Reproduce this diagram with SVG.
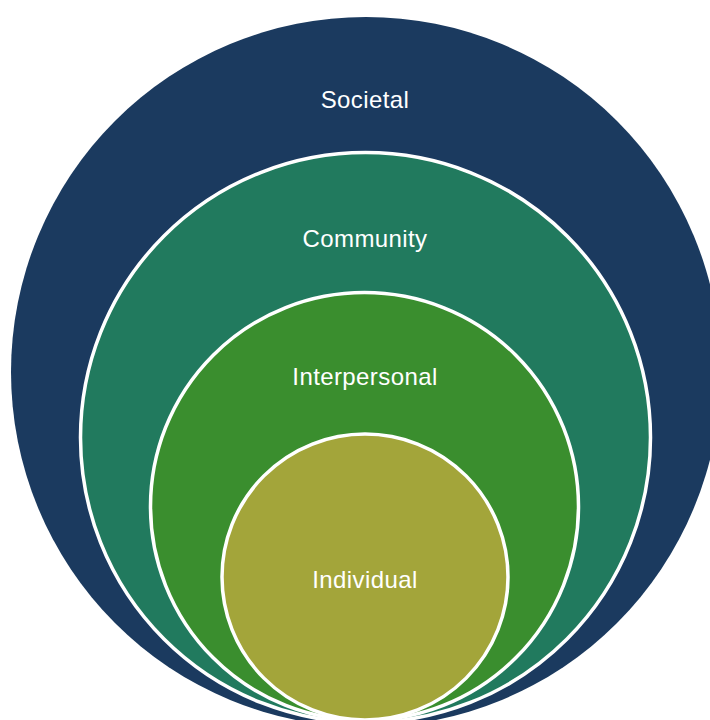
<svg xmlns="http://www.w3.org/2000/svg" width="710" height="720" viewBox="0 0 710 720">
<style>
.ring{stroke:#ffffff;stroke-width:3.5}
.lbl{font-family:"Liberation Sans","DejaVu Sans",sans-serif;font-size:24px;letter-spacing:0.4px;fill:#ffffff;text-anchor:middle}
</style>
<rect width="710" height="720" fill="#ffffff"/>
<g id="societal">
<circle cx="366" cy="372" r="355" fill="#1b3a5f"/>
<text class="lbl" x="365" y="108">Societal</text>
</g>
<g id="community">
<circle class="ring" cx="365.5" cy="437.5" r="285" fill="#217a5e"/>
<text class="lbl" x="365" y="247">Community</text>
</g>
<g id="interpersonal">
<circle class="ring" cx="364.5" cy="506.5" r="214" fill="#3a8e2e"/>
<text class="lbl" x="365" y="385">Interpersonal</text>
</g>
<g id="individual">
<circle class="ring" cx="365" cy="577" r="143" fill="#a3a53a"/>
<text class="lbl" x="365" y="588">Individual</text>
</g>
<g id="connectors"></g>
</svg>
